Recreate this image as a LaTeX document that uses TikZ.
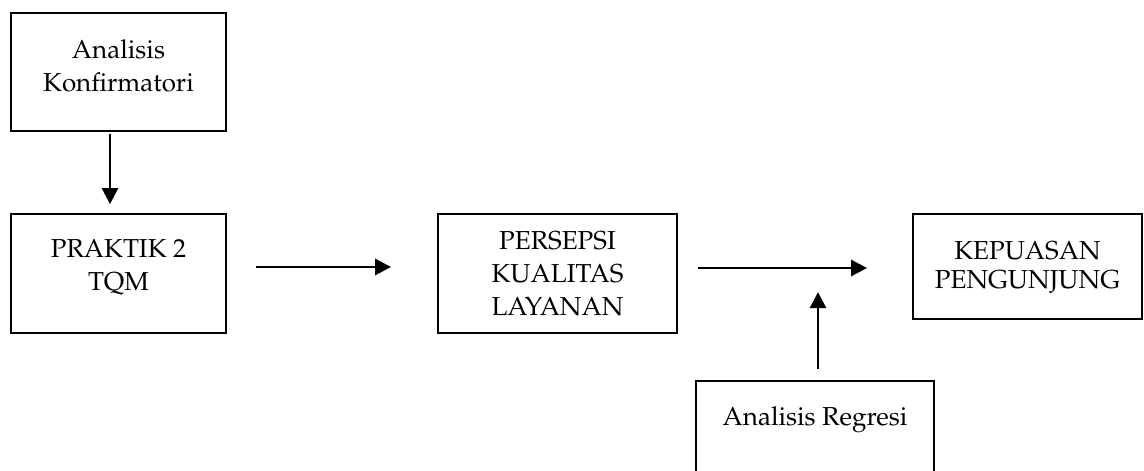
\documentclass[tikz,border=0pt]{standalone}
\usepackage[T1]{fontenc}
\usepackage{mathpazo}
\usetikzlibrary{arrows.meta}
\begin{document}
\begin{tikzpicture}[x=1pt,y=-1pt,
  box/.style={draw=black,line width=1.8pt,inner sep=0pt},
  arr/.style={line width=2.8pt,-{Triangle[length=16pt,width=16pt]}},
  lbl/.style={align=center,inner sep=0pt,font=\fontsize{26}{33}\selectfont}]
\useasboundingbox (0,0) rectangle (1144,471);
\clip (0,0) rectangle (1144,471);
\node[box,minimum width=215pt,minimum height=118pt] (b1) at (118.5,72) {};
\node[box,minimum width=215pt,minimum height=119pt] (b2) at (118.5,273.5) {};
\node[box,minimum width=239pt,minimum height=119pt] (b3) at (557.5,273.5) {};
\node[box,minimum width=229pt,minimum height=105pt] (b4) at (1027.5,266.5) {};
\node[box,minimum width=238pt,minimum height=119pt] (b5) at (815,440.5) {};
\node[lbl] (t1) at ([yshift=6pt]b1.center) {Analisis\\Konfirmatori};
\node[lbl] (t2) at ([yshift=6pt]b2.center) {PRAKTIK 2\\TQM};
\node[lbl] (t3) at ([yshift=-0.5pt]b3.center) {PERSEPSI\\KUALITAS\\LAYANAN};
\node[lbl,font=\fontsize{26}{29.5}\selectfont] (t4) at ([yshift=-1pt]b4.center) {KEPUASAN\\PENGUNJUNG};
\node[lbl] (t5) at (815,420) {Analisis Regresi};
\draw[arr] ([xshift=-8.5pt,yshift=-2pt]b1.south) -- ([xshift=-8.5pt,yshift=9pt]b2.north);
\draw[arr] ([xshift=29pt,yshift=6.5pt]b2.east) -- ([xshift=-46pt,yshift=6.5pt]b3.west);
\draw[arr] ([xshift=20pt,yshift=5.5pt]b3.east) -- ([xshift=-45pt,yshift=-1.5pt]b4.west);
\draw[arr] ([xshift=3pt,yshift=11pt]b5.north) -- ([xshift=3pt,yshift=88pt]b5.north);
\end{tikzpicture}
\end{document}
